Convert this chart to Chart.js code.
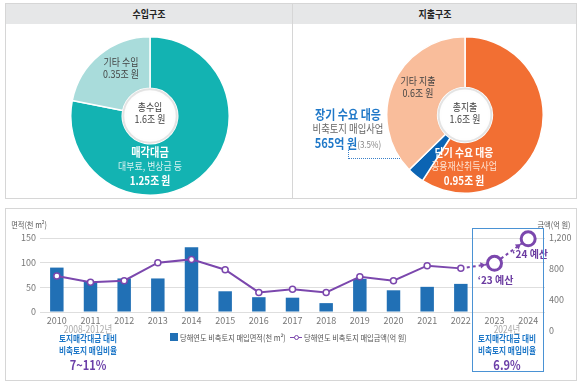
<!DOCTYPE html>
<html>
<head>
<meta charset="utf-8">
<script src="https://cdn.jsdelivr.net/npm/chart.js"></script>
<style>
  body { margin:0; width:580px; height:384px; background:#fff; position:relative; overflow:hidden;
         font-family:"Noto Sans CJK KR","Noto Sans",sans-serif; }
  .box { position:absolute; box-sizing:border-box; }
  .t { position:absolute; transform:translate(-50%,-50%) scaleX(0.85); white-space:nowrap; line-height:1; }
  .l { position:absolute; transform-origin:0 50%; transform:translateY(-50%) scaleX(0.85); white-space:nowrap; line-height:1; }
  .b { font-weight:bold; }
  canvas { position:absolute; }
</style>
</head>
<body>

<!-- top panels -->
<div class="box" style="left:5px;top:3px;width:572px;height:196px;border:1px solid #d6d6d6;"></div>
<div class="box" style="left:6px;top:4px;width:570px;height:20px;background:#e6e7e8;"></div>
<div class="box" style="left:292px;top:4px;width:1px;height:194px;background:#d6d6d6;"></div>
<div class="t b" style="left:149px;top:14px;font-size:10.5px;color:#222;">수입구조</div>
<div class="t b" style="left:435px;top:14px;font-size:10.5px;color:#222;">지출구조</div>

<canvas id="incomeChart" width="160" height="160" style="left:70px;top:36px;"></canvas>
<canvas id="spendChart" width="158" height="158" style="left:386px;top:36px;"></canvas>

<!-- bottom panel -->
<div class="box" style="left:5px;top:208px;width:572px;height:173px;border:1px solid #d6d6d6;"></div>
<canvas id="landChart" width="570" height="130" style="left:6px;top:210px;"></canvas>

<!-- donut texts -->
<div class="t" style="left:121px;top:62px;font-size:10.5px;color:#444;">기타 수입</div>
<div class="t" style="left:121px;top:74px;font-size:10.5px;color:#444;">0.35조 원</div>
<div class="t" style="left:150px;top:107px;font-size:10.5px;color:#444;">총수입</div>
<div class="t" style="left:150px;top:119px;font-size:10.5px;color:#444;">1.6조 원</div>
<div class="t b" style="left:150px;top:152px;font-size:12px;color:#fff;">매각대금</div>
<div class="t" style="left:150px;top:166px;font-size:10.5px;color:#d4f1f0;">대부료, 변상금 등</div>
<div class="t b" style="left:150px;top:181px;font-size:11.5px;color:#fff;">1.25조 원</div>

<div class="t" style="left:418px;top:81px;font-size:10.5px;color:#444;">기타 지출</div>
<div class="t" style="left:418px;top:93px;font-size:10.5px;color:#444;">0.6조 원</div>
<div class="t" style="left:465px;top:107px;font-size:10.5px;color:#444;">총지출</div>
<div class="t" style="left:465px;top:119px;font-size:10.5px;color:#444;">1.6조 원</div>
<div class="t b" style="left:464px;top:153px;font-size:11.5px;color:#fff;">단기 수요 대응</div>
<div class="t" style="left:464px;top:166px;font-size:10.5px;color:#fde3d3;">공용재산취득사업</div>
<div class="t b" style="left:464px;top:181px;font-size:11.5px;color:#fff;">0.95조 원</div>

<div class="t b" style="left:348px;top:113px;font-size:13px;color:#1f78c8;">장기 수요 대응</div>
<div class="t" style="left:348px;top:128px;font-size:11px;color:#666;">비축토지 매입사업</div>
<div class="t" style="left:348px;top:141px;"><span class="b" style="font-size:13px;color:#1f78c8;">565억 원</span><span style="font-size:9.5px;color:#888;">(3.5%)</span></div>
<div class="box" style="left:348px;top:150px;width:52px;height:9px;border-left:1px dotted #3a80c8;border-bottom:1px dotted #3a80c8;"></div>

<!-- bottom texts -->
<div class="t" style="left:29px;top:224px;font-size:8.5px;color:#555;">면적(천 m<sup style="font-size:5.5px">2</sup>)</div>
<div class="t" style="left:554px;top:224px;font-size:8.5px;color:#555;">금액(억 원)</div>

<div class="t" style="left:88px;top:329px;font-size:10px;color:#aaa;">2008-2012년</div>
<div class="t b" style="left:88px;top:338px;font-size:9px;color:#1f78c8;">토지매각대금 대비</div>
<div class="t b" style="left:88px;top:350px;font-size:9px;color:#1f78c8;">비축토지 매입비율</div>
<div class="t b" style="left:88px;top:364px;font-size:13px;color:#6b3fa8;">7~11%</div>

<div class="box" style="left:472px;top:228px;width:72px;height:144px;border:1.5px solid #4a92d4;"></div>
<div class="t" style="left:507px;top:329px;font-size:10px;color:#aaa;">2024년</div>
<div class="t b" style="left:507px;top:338px;font-size:9px;color:#1f78c8;">토지매각대금 대비</div>
<div class="t b" style="left:507px;top:350px;font-size:9px;color:#1f78c8;">비축토지 매입비율</div>
<div class="t b" style="left:507px;top:364px;font-size:13px;color:#6b3fa8;">6.9%</div>

<!-- legend -->
<div class="box" style="left:170px;top:333px;width:8px;height:8px;background:#2170b5;"></div>
<div class="l" id="legArea" style="left:180px;top:337px;font-size:8.5px;color:#555;"></div>
<div class="box" style="left:290px;top:337px;width:12px;height:1.2px;background:#7b47ad;"></div>
<div class="box" style="left:293.5px;top:334.5px;width:5px;height:5px;border:1.2px solid #7b47ad;border-radius:50%;background:#fff;"></div>
<div class="l" id="legAmount" style="left:304px;top:337px;font-size:8.5px;color:#555;"></div>

<script>
// ---- data ----
const incomeLabels = ['매각대금', '기타 수입'];
const incomeValues = [1.25, 0.35];
const spendLabels = ['단기 수요 대응', '장기 수요 대응', '기타 지출'];
const spendValues = [0.95, 0.0565, 0.6];

const years = ['2010','2011','2012','2013','2014','2015','2016','2017','2018','2019','2020','2021','2022','2023','2024'];
const areaValues = [90, 61, 68, 68, 131, 42, 30, 29, 18, 67, 44, 51, 57, null, null];
const amountValues = [710, 628, 649, 881, 924, 791, 498, 537, 498, 701, 649, 843, 808, 873, 1190];
const areaTicks = [0, 50, 100, 150];
const amountTicks = [0, 400, 800, 1200];
const budgetNotes = ['‘23 예산', '‘24 예산'];

const areaLabel = '당해연도 비축토지 매입면적(천 m²)';
const amountLabel = '당해연도 비축토지 매입금액(억 원)';

const barColor = '#2170b5';
const lineColor = '#7b47ad';

document.getElementById('legArea').textContent = areaLabel;
document.getElementById('legAmount').textContent = amountLabel;

Chart.defaults.font.family = '"Noto Sans CJK KR", "Noto Sans", sans-serif';
Chart.defaults.animation = false;

// soft ring inside the hole
const holePlugin = {
  id: 'hole',
  afterDatasetsDraw(chart) {
    const arc = chart.getDatasetMeta(0).data[0];
    const ctx = chart.ctx;
    ctx.save();
    ctx.beginPath();
    ctx.arc(arc.x, arc.y, arc.innerRadius - 1, 0, Math.PI * 2);
    ctx.strokeStyle = 'rgba(0,0,0,0.10)';
    ctx.lineWidth = 2;
    ctx.shadowColor = 'rgba(0,0,0,0.25)';
    ctx.shadowBlur = 4;
    ctx.stroke();
    ctx.restore();
  }
};

function donut(id, labels, values, colors) {
  new Chart(document.getElementById(id), {
    type: 'doughnut',
    data: { labels: labels, datasets: [{ data: values, backgroundColor: colors, borderColor: '#fff', borderWidth: 1.5 }] },
    options: {
      responsive: false,
      cutout: '35%',
      plugins: { legend: { display: false }, tooltip: { enabled: false } }
    },
    plugins: [holePlugin]
  });
}

donut('incomeChart', incomeLabels, incomeValues, ['#13b3b2', '#a9dcdb']);
donut('spendChart', spendLabels, spendValues, ['#f26f33', '#0b64b3', '#f9bd9b']);

const extrasPlugin = {
  id: 'extras',
  afterDatasetsDraw(chart) {
    const ctx = chart.ctx;
    const pts = chart.getDatasetMeta(0).data;
    ctx.save();
    // arrow heads on the budget segments
    [13, 14].forEach(function (i) {
      const a = pts[i - 1], b = pts[i];
      const ang = Math.atan2(b.y - a.y, b.x - a.x);
      const r = b.options.radius + b.options.borderWidth / 2 + 0.5;
      const tx = b.x - Math.cos(ang) * r, ty = b.y - Math.sin(ang) * r;
      ctx.beginPath();
      ctx.moveTo(tx, ty);
      ctx.lineTo(tx - Math.cos(ang - 0.55) * 6, ty - Math.sin(ang - 0.55) * 6);
      ctx.lineTo(tx - Math.cos(ang + 0.55) * 6, ty - Math.sin(ang + 0.55) * 6);
      ctx.closePath();
      ctx.fillStyle = lineColor;
      ctx.fill();
    });
    // budget notes
    ctx.font = 'bold 10px "Noto Sans CJK KR", sans-serif';
    ctx.fillStyle = '#6a3aa0';
    ctx.textAlign = 'center';
    ctx.textBaseline = 'middle';
    ctx.fillText(budgetNotes[0], pts[13].x + 1, pts[13].y + 17);
    ctx.fillText(budgetNotes[1], pts[14].x + 2, pts[14].y + 15);
    // right-axis ticks below the plot area
    const y1 = chart.scales.y1;
    ctx.font = '9px "Noto Sans CJK KR", sans-serif';
    ctx.fillStyle = '#777';
    ctx.textAlign = 'left';
    amountTicks.filter(v => v < y1.min).forEach(function (v) {
      ctx.fillText(v.toLocaleString('en-US'), y1.left + 4, y1.getPixelForValue(v));
    });
    ctx.restore();
  }
};

new Chart(document.getElementById('landChart'), {
  data: {
    labels: years,
    datasets: [
      {
        type: 'line',
        label: amountLabel,
        data: amountValues,
        yAxisID: 'y1',
        borderColor: lineColor,
        borderWidth: 2,
        pointBackgroundColor: '#fff',
        pointBorderColor: lineColor,
        pointRadius: amountValues.map((v, i) => i >= 13 ? 7 : 3),
        pointBorderWidth: amountValues.map((v, i) => i >= 13 ? 3 : 1.5),
        segment: { borderDash: c => c.p0DataIndex >= 12 ? [3, 3] : undefined },
        clip: false
      },
      {
        type: 'bar',
        label: areaLabel,
        data: areaValues,
        yAxisID: 'y',
        backgroundColor: barColor,
        barPercentage: 0.8,
        categoryPercentage: 0.5
      }
    ]
  },
  options: {
    responsive: false,
    layout: { padding: { left: 4, right: 0, top: 28, bottom: 12 } },
    scales: {
      x: {
        grid: { display: false, drawTicks: false },
        border: { display: false },
        ticks: { color: '#777', font: { size: 9 }, padding: 3, maxRotation: 0 },
        afterFit: s => { s.height = 16; }
      },
      y: {
        position: 'left',
        min: 0, max: 150,
        afterBuildTicks: s => { s.ticks = areaTicks.map(v => ({ value: v })); },
        grid: { color: '#dedede', drawTicks: false },
        border: { display: false },
        ticks: { color: '#777', font: { size: 9 }, padding: 4 },
        afterFit: s => { s.width = 30; }
      },
      y1: {
        position: 'right',
        min: 245, max: 1200,
        afterBuildTicks: s => { s.ticks = amountTicks.filter(v => v >= s.min).map(v => ({ value: v })); },
        grid: { display: false, drawTicks: false },
        border: { display: false },
        ticks: { color: '#777', font: { size: 9 }, padding: 4, callback: v => v.toLocaleString('en-US') },
        afterFit: s => { s.width = 31; }
      }
    },
    plugins: {
      tooltip: { enabled: false },
      legend: { display: false }
    }
  },
  plugins: [extrasPlugin]
});
</script>
</body>
</html>
